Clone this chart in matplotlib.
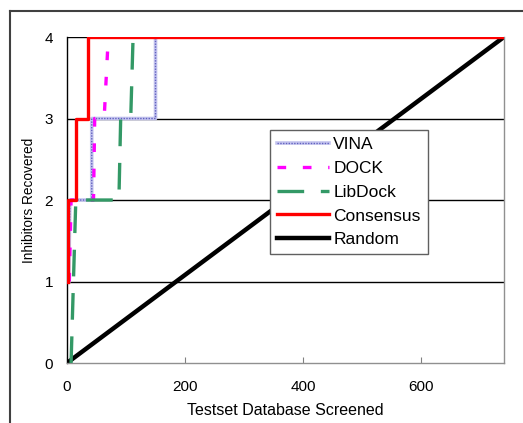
import matplotlib
matplotlib.use('Agg')
import matplotlib.pyplot as plt
from matplotlib.lines import Line2D

plt.rcParams['font.family'] = ['Liberation Sans', 'DejaVu Sans']

# step curves, x = compounds screened, y = inhibitors found
vina_x = [3, 5, 42, 42, 150, 150, 740]
vina_y = [1, 2, 2, 3, 3, 4, 4]
dock_x = [4, 7, 45, 47, 63, 70]
dock_y = [1, 2, 2, 3, 3, 4]
lib_x = [7, 15, 88, 91, 108, 112, 740]
lib_y = [0, 2, 2, 3, 3, 4, 4]
cons_x = [2, 2, 16, 16, 36, 36, 740]
cons_y = [1, 2, 2, 3, 3, 4, 4]
rand_x = [0, 740]
rand_y = [0, 4]

fig = plt.figure(figsize=(5.23, 4.23), dpi=100)
ax = fig.add_axes([0.128, 0.1418, 0.8355, 0.7707])

for yy in [1, 2, 3, 4]:
    ax.axhline(yy, color='black', lw=1, zorder=1)

ax.plot(rand_x, rand_y, color='black', lw=3.2, zorder=2, solid_capstyle='butt')
v1, = ax.plot(vina_x, vina_y, color='#c4c4ee', lw=2.6, zorder=3)
v2, = ax.plot(vina_x, vina_y, color='#6262c0', lw=1.0, ls=(0, (1, 1)), zorder=3)
dk, = ax.plot(dock_x, dock_y, color='#ff00ff', lw=2.4, ls=(0, (2.6, 5)), zorder=4)
lb, = ax.plot(lib_x, lib_y, color='#339966', lw=2.4, ls=(0, (8, 5)), zorder=4)
cs, = ax.plot(cons_x, cons_y, color='#ff0000', lw=2.4, zorder=5)
rd = Line2D([], [], color='black', lw=3.2)

ax.set_xlim(0, 740)
ax.set_ylim(0, 4)
ax.set_xticks([0, 200, 400, 600])
ax.set_yticks([0, 1, 2, 3, 4])
ax.tick_params(axis='x', direction='in', length=4, color='#808080', labelsize=11, pad=12)
ax.tick_params(axis='y', length=0, labelsize=11, pad=10)
ax.spines['left'].set_color('black')
ax.spines['bottom'].set_color('#909090')
ax.spines['right'].set_color('#909090')
ax.spines['top'].set_visible(False)
for s in ax.spines.values():
    s.set_linewidth(1)

ax.set_xlabel('Testset Database Screened', fontsize=11.5, labelpad=7)
ax.set_ylabel('Inhibitors Recovered', fontsize=9.8, labelpad=6)

leg = ax.legend([(v1, v2), dk, lb, cs, rd], ['VINA', 'DOCK', 'LibDock', 'Consensus', 'Random'],
                loc='upper left', bbox_to_anchor=(0.4645, 0.715), borderaxespad=0,
                fontsize=12.5, fancybox=False, framealpha=1, edgecolor='#606060',
                handlelength=3.0, handletextpad=0.25, labelspacing=0.5, borderpad=0.4)
leg.get_frame().set_linewidth(1)

# outer frame around the chart
fig.add_artist(Line2D([0.019, 0.019], [0, 0.974], color='#404040', lw=1.5, transform=fig.transFigure))
fig.add_artist(Line2D([0.019, 1], [0.974, 0.974], color='#404040', lw=1.5, transform=fig.transFigure))

fig.savefig('out.png', dpi=100)
